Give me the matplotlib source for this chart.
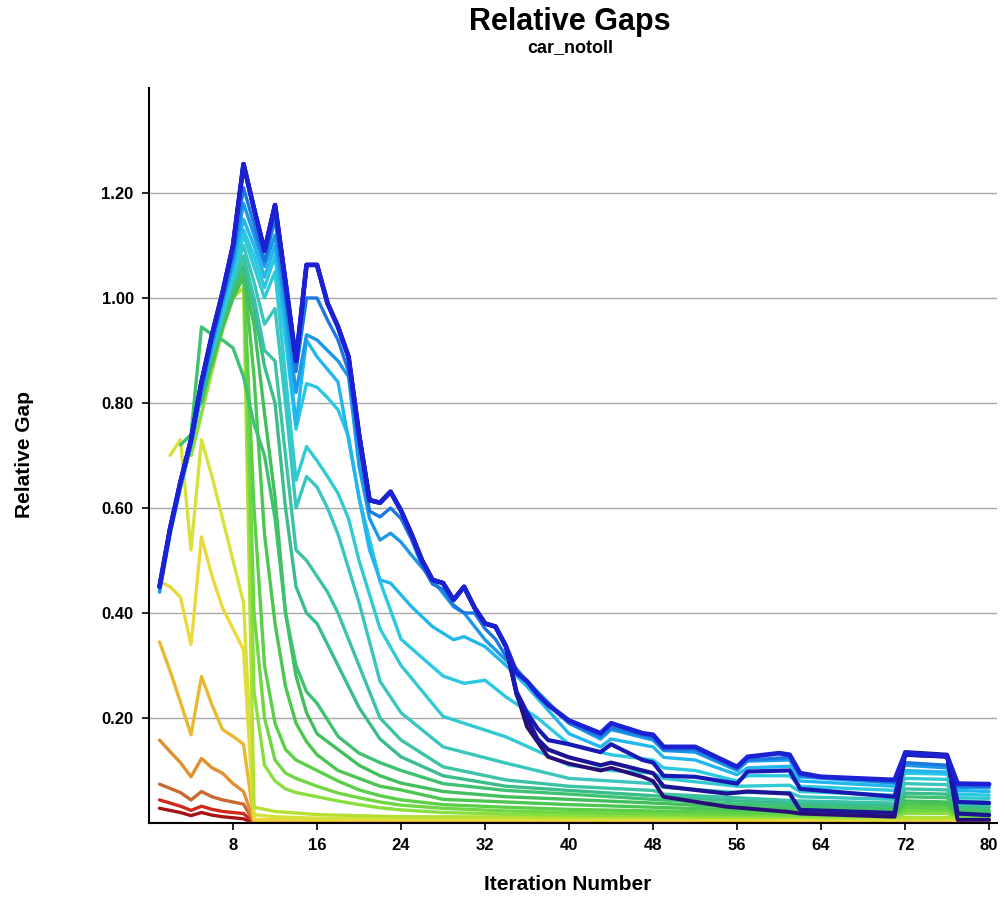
import matplotlib
matplotlib.use("Agg")
import matplotlib.pyplot as plt

plt.rcParams['font.family'] = ['Liberation Sans', 'DejaVu Sans']

# ---------------- data ----------------
x_ticks = [8, 16, 24, 32, 40, 48, 56, 64, 72, 80]
y_ticks = [0.20, 0.40, 0.60, 0.80, 1.00, 1.20]
y_tick_labels = ["0.20", "0.40", "0.60", "0.80", "1.00", "1.20"]

it_00 = [1, 2, 3, 4, 5, 6, 7, 8, 9, 10, 80]
gap_00 = [0.028, 0.024, 0.020, 0.014, 0.020, 0.015, 0.012, 0.010, 0.008, 0.0, 0.0]
it_01 = [1, 2, 3, 4, 5, 6, 7, 8, 9, 10, 80]
gap_01 = [0.044, 0.038, 0.032, 0.024, 0.032, 0.026, 0.022, 0.020, 0.018, 0.0, 0.0]
it_02 = [1, 2, 3, 4, 5, 6, 7, 8, 9, 10, 80]
gap_02 = [0.074, 0.066, 0.058, 0.044, 0.060, 0.050, 0.044, 0.040, 0.036, 0.001, 0.001]
it_03 = [1, 2, 3, 4, 5, 6, 7, 8, 9, 10, 80]
gap_03 = [0.158, 0.136, 0.115, 0.088, 0.123, 0.105, 0.095, 0.075, 0.060, 0.003, 0.002]
it_04 = [1, 2, 3, 4, 5, 6, 7, 8, 9, 10, 80]
gap_04 = [0.345, 0.290, 0.230, 0.168, 0.279, 0.225, 0.178, 0.165, 0.150, 0.005, 0.004]
it_05 = [1, 2, 3, 4, 5, 6, 7, 8, 9, 10, 80]
gap_05 = [0.460, 0.450, 0.430, 0.340, 0.545, 0.470, 0.410, 0.370, 0.330, 0.007, 0.006]
it_06 = [2, 3, 4, 5, 6, 7, 8, 9, 10, 12, 16, 80]
gap_06 = [0.700, 0.730, 0.520, 0.730, 0.660, 0.580, 0.500, 0.420, 0.016, 0.012, 0.009, 0.008]
it_07 = [4, 5, 6, 7, 8, 9, 10, 12, 16, 24, 80]
gap_07 = [0.700, 0.780, 0.860, 0.940, 1.000, 1.020, 0.030, 0.022, 0.016, 0.012, 0.010]

it_08 = [4, 5, 6, 7, 8, 9, 10, 11, 12, 13, 14, 16, 18, 20, 22, 24, 28, 34, 40, 48, 56, 64, 71, 72, 76, 77, 80]
gap_08 = [0.70, 0.78, 0.87, 0.95, 1.02, 1.07, 0.25, 0.11, 0.08, 0.065, 0.058, 0.05, 0.042, 0.035, 0.029, 0.025,
          0.02, 0.017, 0.015, 0.014, 0.013, 0.012, 0.012, 0.018, 0.018, 0.011, 0.011]
it_09 = [5, 6, 7, 8, 9, 10, 11, 12, 13, 14, 16, 18, 20, 22, 24, 28, 34, 40, 48, 56, 64, 71, 72, 76, 77, 80]
gap_09 = [0.80, 0.88, 0.96, 1.02, 1.08, 0.40, 0.20, 0.12, 0.095, 0.085, 0.07, 0.057, 0.048, 0.04, 0.034, 0.028,
          0.023, 0.02, 0.018, 0.016, 0.015, 0.014, 0.024, 0.024, 0.013, 0.013]
it_10 = [6, 7, 8, 9, 10, 11, 12, 13, 14, 15, 16, 18, 20, 22, 24, 28, 34, 40, 48, 56, 64, 71, 72, 76, 77, 80]
gap_10 = [0.87, 0.94, 1.00, 1.05, 0.60, 0.30, 0.19, 0.14, 0.12, 0.11, 0.10, 0.08, 0.063, 0.052, 0.044, 0.035,
          0.03, 0.026, 0.023, 0.02, 0.018, 0.017, 0.03, 0.029, 0.016, 0.016]
it_11 = [6, 7, 8, 9, 10, 11, 12, 13, 14, 15, 16, 18, 20, 22, 24, 28, 34, 40, 48, 56, 64, 71, 72, 76, 77, 80]
gap_11 = [0.88, 0.95, 1.01, 1.06, 0.85, 0.55, 0.38, 0.26, 0.19, 0.155, 0.13, 0.10, 0.085, 0.07, 0.063, 0.045,
          0.04, 0.035, 0.03, 0.025, 0.021, 0.02, 0.036, 0.035, 0.019, 0.019]
it_12 = [5, 6, 7, 8, 9, 10, 11, 12, 13, 14, 15, 16, 18, 20, 22, 24, 28, 34, 40, 48, 56, 64, 71, 72, 76, 77, 80]
gap_12 = [0.80, 0.88, 0.95, 1.00, 1.04, 0.95, 0.78, 0.62, 0.40, 0.28, 0.21, 0.17, 0.14, 0.11, 0.09, 0.076, 0.06,
          0.05, 0.045, 0.038, 0.03, 0.026, 0.024, 0.042, 0.04, 0.022, 0.021]
it_13 = [3, 4, 5, 6, 7, 8, 9, 10, 11, 12, 13, 14, 15, 16, 18, 20, 22, 24, 28, 34, 40, 48, 56, 64, 71, 72, 76, 77, 80]
gap_13 = [0.72, 0.74, 0.945, 0.93, 0.92, 0.905, 0.85, 0.76, 0.70, 0.58, 0.40, 0.30, 0.25, 0.228, 0.165, 0.133,
          0.115, 0.10, 0.075, 0.062, 0.055, 0.045, 0.036, 0.031, 0.028, 0.05, 0.048, 0.026, 0.025]
it_14 = [7, 8, 9, 10, 11, 12, 13, 14, 15, 16, 18, 20, 22, 24, 28, 34, 40, 48, 56, 64, 71, 72, 76, 77, 80]
gap_14 = [0.96, 1.02, 1.06, 0.98, 0.87, 0.80, 0.60, 0.45, 0.40, 0.38, 0.30, 0.22, 0.16, 0.126, 0.09, 0.07,
          0.062, 0.052, 0.042, 0.036, 0.033, 0.057, 0.055, 0.031, 0.03]
it_15 = [6, 7, 8, 9, 10, 11, 12, 13, 14, 15, 16, 17, 18, 20, 22, 24, 28, 34, 40, 48, 49, 56, 62, 71, 72, 76, 77, 80]
gap_15 = [0.89, 0.96, 1.03, 1.08, 1.00, 0.90, 0.88, 0.70, 0.52, 0.50, 0.47, 0.44, 0.40, 0.30, 0.20, 0.158, 0.107,
          0.082, 0.07, 0.062, 0.055, 0.048, 0.042, 0.038, 0.065, 0.063, 0.036, 0.035]
it_16 = [6, 7, 8, 9, 10, 11, 12, 13, 14, 15, 16, 17, 18, 20, 22, 24, 28, 34, 40, 48, 49, 56, 61, 62, 71, 72, 76,
         77, 80]
gap_16 = [0.90, 0.97, 1.04, 1.10, 1.03, 0.95, 0.98, 0.80, 0.60, 0.66, 0.64, 0.60, 0.55, 0.42, 0.27, 0.21, 0.145,
          0.114, 0.085, 0.075, 0.068, 0.058, 0.058, 0.05, 0.045, 0.075, 0.073, 0.042, 0.04]
it_17 = [5, 6, 7, 8, 9, 10, 11, 12, 13, 14, 15, 16, 17, 18, 19, 20, 22, 24, 28, 34, 40, 44, 48, 49, 56, 61, 62,
         71, 72, 76, 77, 80]
gap_17 = [0.82, 0.90, 0.97, 1.04, 1.12, 1.06, 1.00, 1.05, 0.85, 0.653, 0.717, 0.69, 0.66, 0.628, 0.58, 0.50,
          0.37, 0.30, 0.203, 0.164, 0.11, 0.10, 0.095, 0.085, 0.07, 0.072, 0.06, 0.053, 0.085, 0.083, 0.048, 0.047]
it_18 = [3, 4, 5, 6, 7, 8, 9, 10, 11, 12, 13, 14, 15, 16, 17, 18, 19, 20, 22, 24, 28, 30, 32, 34, 37, 40, 44, 48,
         49, 52, 56, 57, 61, 62, 71, 72, 76, 77, 80]
gap_18 = [0.64, 0.72, 0.82, 0.90, 0.98, 1.05, 1.13, 1.08, 1.02, 1.08, 0.92, 0.75, 0.837, 0.83, 0.81, 0.787, 0.736,
          0.62, 0.46, 0.35, 0.28, 0.266, 0.272, 0.24, 0.20, 0.15, 0.13, 0.12, 0.105, 0.10, 0.08, 0.09, 0.09, 0.07,
          0.062, 0.095, 0.093, 0.055, 0.053]
it_19 = [1, 2, 3, 4, 5, 6, 7, 8, 9, 10, 11, 12, 13, 14, 15, 16, 18, 20, 21, 22, 23, 25, 27, 29, 30, 32, 34, 36,
         40, 43, 44, 48, 49, 52, 56, 57, 61, 62, 71, 72, 76, 77, 80]
gap_19 = [0.44, 0.55, 0.64, 0.72, 0.82, 0.91, 0.99, 1.06, 1.15, 1.10, 1.04, 1.10, 0.95, 0.76, 0.92, 0.888, 0.84,
          0.62, 0.52, 0.463, 0.457, 0.412, 0.374, 0.349, 0.355, 0.336, 0.30, 0.26, 0.17, 0.145, 0.16, 0.145,
          0.125, 0.12, 0.092, 0.105, 0.108, 0.08, 0.07, 0.10, 0.097, 0.062, 0.06]
it_20 = [1, 2, 3, 4, 5, 6, 7, 8, 9, 10, 11, 12, 13, 14, 15, 16, 17, 18, 19, 20, 21, 22, 23, 24, 25, 27, 29, 30,
         32, 34, 36, 40, 43, 44, 48, 49, 52, 56, 57, 61, 62, 71, 72, 76, 77, 80]
gap_20 = [0.44, 0.55, 0.64, 0.72, 0.82, 0.91, 0.99, 1.07, 1.18, 1.12, 1.06, 1.12, 0.98, 0.82, 0.93, 0.92, 0.90,
          0.88, 0.85, 0.68, 0.58, 0.539, 0.552, 0.535, 0.51, 0.463, 0.412, 0.40, 0.349, 0.31, 0.27, 0.19, 0.16,
          0.178, 0.158, 0.138, 0.135, 0.10, 0.118, 0.12, 0.088, 0.076, 0.11, 0.105, 0.068, 0.067]
it_21 = [1, 2, 3, 4, 5, 6, 7, 8, 9, 10, 11, 12, 13, 14, 15, 16, 17, 18, 19, 20, 21, 22, 23, 24, 25, 26, 27, 28,
         29, 30, 31, 32, 33, 34, 36, 38, 40, 43, 44, 48, 49, 52, 56, 57, 61, 62, 71, 72, 76, 77, 80]
gap_21 = [0.45, 0.56, 0.65, 0.73, 0.83, 0.92, 1.00, 1.08, 1.21, 1.14, 1.07, 1.15, 1.00, 0.86, 1.00, 1.00, 0.958,
          0.92, 0.86, 0.72, 0.594, 0.583, 0.60, 0.58, 0.54, 0.49, 0.455, 0.445, 0.415, 0.40, 0.40, 0.37, 0.35,
          0.317, 0.27, 0.225, 0.19, 0.165, 0.182, 0.162, 0.14, 0.14, 0.103, 0.12, 0.125, 0.09, 0.078, 0.115,
          0.11, 0.07, 0.07]

# common upper envelope shared by the dark-blue runs up to iteration 34
env_it = [1, 2, 3, 4, 5, 6, 7, 8, 9, 10, 11, 12, 13, 14, 15, 16, 17, 18, 19, 20, 21, 22, 23, 24, 25, 26, 27, 28,
          29, 30, 31, 32, 33, 34]
env_gap = [0.45, 0.56, 0.65, 0.73, 0.84, 0.93, 1.01, 1.10, 1.255, 1.17, 1.09, 1.177, 1.03, 0.88, 1.063, 1.063,
           0.99, 0.945, 0.888, 0.74, 0.615, 0.61, 0.631, 0.595, 0.55, 0.50, 0.463, 0.457, 0.425, 0.45, 0.41,
           0.38, 0.374, 0.336]

tail_it_22 = [35, 36, 37, 38, 40, 43, 44, 47, 48, 49, 52, 56, 57, 60, 61, 62, 64, 71, 72, 76, 77, 80]
tail_gap_22 = [0.286, 0.27, 0.245, 0.225, 0.195, 0.171, 0.19, 0.171, 0.168, 0.145, 0.145, 0.107, 0.126, 0.133,
               0.13, 0.095, 0.088, 0.082, 0.133, 0.128, 0.075, 0.074]
tail_it_23 = [35, 36, 37, 38, 40, 43, 44, 47, 48, 49, 52, 56, 57, 61, 62, 71, 72, 76, 77, 80]
tail_gap_23 = [0.25, 0.21, 0.18, 0.158, 0.15, 0.135, 0.15, 0.12, 0.115, 0.09, 0.088, 0.075, 0.098, 0.10, 0.065,
               0.05, 0.13, 0.127, 0.04, 0.038]
tail_it_24 = [35, 36, 37, 38, 40, 43, 44, 47, 48, 49, 55, 57, 61, 62, 71, 72, 76, 77, 80]
tail_gap_24 = [0.245, 0.20, 0.16, 0.14, 0.125, 0.11, 0.115, 0.10, 0.095, 0.07, 0.056, 0.06, 0.056, 0.025, 0.019,
               0.135, 0.13, 0.018, 0.015]
tail_it_25 = [35, 36, 38, 40, 43, 44, 47, 48, 49, 55, 61, 62, 71, 72, 76, 77, 80]
tail_gap_25 = [0.247, 0.183, 0.126, 0.113, 0.10, 0.105, 0.088, 0.08, 0.05, 0.031, 0.021, 0.018, 0.012, 0.13,
               0.126, 0.006, 0.006]

it_22, gap_22 = env_it + tail_it_22, env_gap + tail_gap_22
it_23, gap_23 = env_it + tail_it_23, env_gap + tail_gap_23
it_24, gap_24 = env_it + tail_it_24, env_gap + tail_gap_24
it_25, gap_25 = env_it + tail_it_25, env_gap + tail_gap_25

series = [
    (it_00, gap_00), (it_01, gap_01), (it_02, gap_02), (it_03, gap_03), (it_04, gap_04), (it_05, gap_05),
    (it_06, gap_06), (it_07, gap_07), (it_08, gap_08), (it_09, gap_09), (it_10, gap_10), (it_11, gap_11),
    (it_12, gap_12), (it_13, gap_13), (it_14, gap_14), (it_15, gap_15), (it_16, gap_16), (it_17, gap_17),
    (it_18, gap_18), (it_19, gap_19), (it_20, gap_20), (it_21, gap_21), (it_22, gap_22), (it_23, gap_23),
    (it_24, gap_24), (it_25, gap_25),
]

# ---------------- style ----------------
colors = [
    "#a81212", "#d02a1a", "#c86a32", "#e0902c", "#e8b830", "#ecd83a", "#d6e23a", "#b4e034",
    "#8ade40", "#70d644", "#5ccf48", "#4cc650", "#42be5c", "#3ec272", "#3abd8a", "#3cc2a6",
    "#3ac6be", "#32cad2", "#2ac8e2", "#22b6ee", "#1c98e8", "#1a78e0", "#1c22d4", "#1818b4",
    "#1c1494", "#2a0c78",
]
widths = [2.4] * 22 + [3.4, 3.0, 3.0, 2.8]
# draw order: light lines first, navy tails next, strong blue envelope on top
order = list(range(22)) + [25, 24, 23, 22]

fig = plt.figure(figsize=(10.05, 8.99), dpi=100)
ax = fig.add_axes([149 / 1005, 1 - 823 / 899, 848 / 1005, 735 / 899])

for k in order:
    xs, ys = series[k]
    ax.plot(xs, ys, color=colors[k], lw=widths[k], solid_joinstyle="round", solid_capstyle="round")

ax.set_xlim(0, 80.75)
ax.set_ylim(0, 1.40)
ax.set_xticks(x_ticks)
ax.set_xticklabels([str(v) for v in x_ticks], fontsize=12, fontweight="bold")
ax.set_yticks(y_ticks)
ax.set_yticklabels(y_tick_labels, fontsize=12, fontweight="bold")
ax.grid(axis="y", color="#a8a8a8", lw=1.0)
ax.set_axisbelow(True)
for side in ("top", "right"):
    ax.spines[side].set_visible(False)
for side in ("left", "bottom"):
    ax.spines[side].set_color("black")
    ax.spines[side].set_linewidth(1.5)
ax.tick_params(axis="both", direction="out", length=5, width=1.2, colors="black", pad=6)

fig.text(570 / 1005, 1 - 22 / 899, "Relative Gaps", ha="center", va="center", fontsize=22, fontweight="bold")
fig.text(570 / 1005, 1 - 48 / 899, "car_notoll", ha="center", va="center", fontsize=13, fontweight="bold")
fig.text(568 / 1005, 1 - 885 / 899, "Iteration Number", ha="center", va="center", fontsize=15, fontweight="bold")
fig.text(24 / 1005, 1 - 455 / 899, "Relative Gap", ha="center", va="center", rotation=90, fontsize=15,
         fontweight="bold")

fig.savefig("out.png", dpi=100, facecolor="white")
